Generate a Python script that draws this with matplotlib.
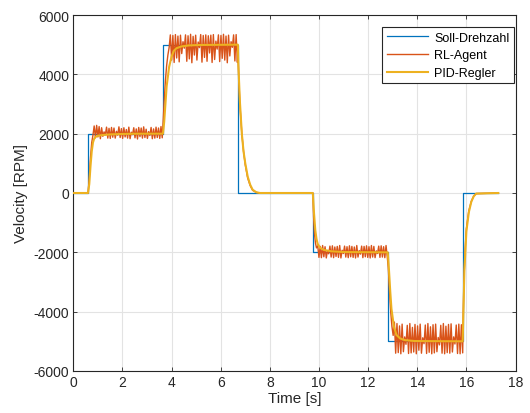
import numpy as np
import matplotlib
matplotlib.use("Agg")
import matplotlib.pyplot as plt

plt.rcParams["font.family"] = ["Liberation Sans", "DejaVu Sans"]
plt.rcParams["axes.unicode_minus"] = False

# ─── Soll-Drehzahl (Sprungfolge) ─────────────────────────────────
soll_t = [0.0, 0.6, 3.65, 6.7, 9.75, 12.8, 15.85, 17.3]
soll_v = [0, 2000, 5000, 0, -2000, -5000, 0, 0]

pid_t = [0.0, 0.6, 0.65, 0.7, 0.75, 0.8, 0.85, 0.9, 1.0, 1.2, 1.5, 2.0, 2.5, 3.65,
         3.7, 3.75, 3.8, 3.9, 4.0, 4.1, 4.2, 4.4, 4.7, 5.2, 6.7,
         6.72, 6.78, 6.86, 6.93, 7.0, 7.1, 7.2, 7.3, 7.45, 7.6, 9.75,
         9.8, 9.85, 9.9, 9.95, 10.05, 10.2, 10.5, 11.0, 12.8,
         12.85, 12.9, 12.95, 13.05, 13.15, 13.3, 13.5, 13.9, 15.85,
         15.88, 15.92, 16.0, 16.1, 16.2, 16.3, 16.4, 17.3]
pid_v = [0, 0, 300, 900, 1400, 1700, 1830, 1890, 1930, 1955, 1975, 1990, 1998, 2000,
         2400, 3000, 3600, 4250, 4600, 4800, 4880, 4940, 4975, 4990, 5000,
         4300, 3100, 2000, 1400, 1000, 550, 280, 110, 25, 0, 0,
         -700, -1250, -1550, -1720, -1850, -1920, -1965, -1990, -2000,
         -2600, -3300, -3900, -4500, -4780, -4900, -4960, -4990, -5000,
         -4000, -2600, -1300, -650, -300, -110, -20, 0]

# ─── RL-Agent: Übergänge ─────────────────────────────────────────
rl_t0 = [0.0, 0.6, 0.65, 0.7, 0.75, 0.8]
rl_v0 = [0, 0, 500, 1200, 1700, 1950]
rl_t1 = [3.65, 3.7, 3.75, 3.8, 3.85, 3.9]
rl_v1 = [2300, 3100, 3800, 4300, 4650, 4900]
rl_t2 = [6.7, 6.73, 6.78, 6.86, 6.93, 7.0, 7.1, 7.2, 7.3, 7.45, 7.6, 9.75]
rl_v2 = [4900, 4000, 3000, 2000, 1400, 950, 500, 250, 90, 20, 0, 0]
rl_t3 = [9.78, 9.82, 9.86, 9.9]
rl_v3 = [-800, -1400, -1700, -1850]
rl_t4 = [12.82, 12.87, 12.92, 12.97, 13.02]
rl_v4 = [-2500, -3300, -4000, -4500, -4800]
rl_t5 = [15.87, 15.9, 15.95, 16.0, 16.1, 16.2, 16.3, 16.4, 17.3]
rl_v5 = [-4200, -3000, -1900, -1200, -600, -280, -100, -20, 0]

# ─── RL-Agent: Schwingung um die Plateaus (Abweichungen in RPM) ──
plateau_sets = [2000, 5000, -2000, -5000]
plateau_span = [(0.85, 3.62), (3.95, 6.68), (9.95, 12.78), (13.07, 15.85)]
dev_p1 = [260, -140, 280, -110, 240, -170, 200, -90, 60, -40, 220, -150, 180, -160,
          210, -120, 190, -150, 80, -50, 230, -130, 170, -160, 200, -110, 140, -150,
          220, -170, 50, -30, 200, -140, 160, -180, 210, -100, 190, -150, 230, -130,
          150, -160, 70, -60, 210, -170, 160, -150, 220, -130, 190, -160, 240, -140]
dev_p2 = [330, -520, 310, -600, 340, -450, 290, -580, 320, -300, 100, -120, 330, -560,
          300, -480, 350, -610, 280, -350, 320, -520, 90, -100, 340, -590, 310, -430,
          330, -560, 300, -280, 320, -600, 340, -500, 120, -150, 330, -570, 310, -460,
          350, -520, 290, -610, 320, -380, 100, -90, 330, -550, 340, -600]
dev_p3 = [220, -170, 200, -180, 230, -150, 190, -190, 60, -50, 210, -160, 220, -180,
          180, -140, 200, -170, 230, -190, 70, -40, 210, -160, 190, -180, 220, -150,
          200, -170, 180, -190, 230, -160, 60, -60, 210, -180, 200, -150, 220, -170,
          190, -190, 230, -160, 200, -180, 50, -40, 210, -170, 220, -160, 190, -180,
          230, -150]
dev_p4 = [650, -400, 600, -380, 520, -420, 580, -350, 150, -100, 540, -410, 600, -390,
          470, -360, 570, -420, 520, -300, 580, -400, 120, -80, 550, -410, 600, -370,
          490, -420, 560, -390, 580, -350, 130, -120, 540, -400, 600, -420, 510, -380,
          570, -400, 590, -360, 150, -90, 550, -410, 580, -420, 560, -390]
plateau_devs = [dev_p1, dev_p2, dev_p3, dev_p4]

# ─── Farben (MATLAB-Standard) ────────────────────────────────────
C_SOLL = "#0072BD"
C_RL   = "#D95319"
C_PID  = "#EDB120"
C_AX   = "#262626"


def build_rl():
    # Reihenfolge: Anlauf, Plateau, Übergang(e), Plateau, ...
    after = [[(rl_t1, rl_v1)],
             [(rl_t2, rl_v2), (rl_t3, rl_v3)],
             [(rl_t4, rl_v4)],
             [(rl_t5, rl_v5)]]
    parts_t = [rl_t0]
    parts_v = [rl_v0]
    for s, (a, b), dev, trans in zip(plateau_sets, plateau_span, plateau_devs, after):
        parts_t.append(np.linspace(a, b, len(dev)))
        parts_v.append(s + np.array(dev))
        for tt, vv in trans:
            parts_t.append(tt)
            parts_v.append(vv)
    return np.concatenate(parts_t), np.concatenate(parts_v)


rl_t, rl_v = build_rl()

fig = plt.figure(figsize=(5.30, 4.14), dpi=100)
ax = fig.add_axes([73.3 / 530, 1 - 372 / 414, 442.2 / 530, 356 / 414])

ax.plot(soll_t, soll_v, color=C_SOLL, lw=0.9, drawstyle="steps-post",
        label="Soll-Drehzahl", zorder=3)
ax.plot(rl_t, rl_v, color=C_RL, lw=1.0, label="RL-Agent", zorder=4)
ax.plot(pid_t, pid_v, color=C_PID, lw=1.5, label="PID-Regler", zorder=5)

ax.set_xlim(0, 18)
ax.set_ylim(-6000, 6000)
ax.set_xticks(np.arange(0, 19, 2))
ax.set_yticks(np.arange(-6000, 6001, 2000))
ax.set_xlabel("Time [s]", fontsize=11, color=C_AX, labelpad=1)
ax.set_ylabel("Velocity [RPM]", fontsize=11, color=C_AX, labelpad=4)

ax.grid(True, color="#e3e3e3", linewidth=0.8)
ax.set_axisbelow(True)
ax.tick_params(direction="in", length=3, width=0.6, colors=C_AX,
               labelsize=10, top=True, right=True, pad=3)
for sp in ax.spines.values():
    sp.set_color(C_AX)
    sp.set_linewidth(0.8)

leg = ax.legend(loc="upper right", bbox_to_anchor=(0.9966, 0.9655),
                borderaxespad=0, fontsize=9, handlelength=3.3,
                labelspacing=0.45, handletextpad=0.5, borderpad=0.35,
                fancybox=False, framealpha=1)
leg.get_frame().set_edgecolor(C_AX)
leg.get_frame().set_linewidth(0.8)

fig.savefig("out.png", dpi=100)
